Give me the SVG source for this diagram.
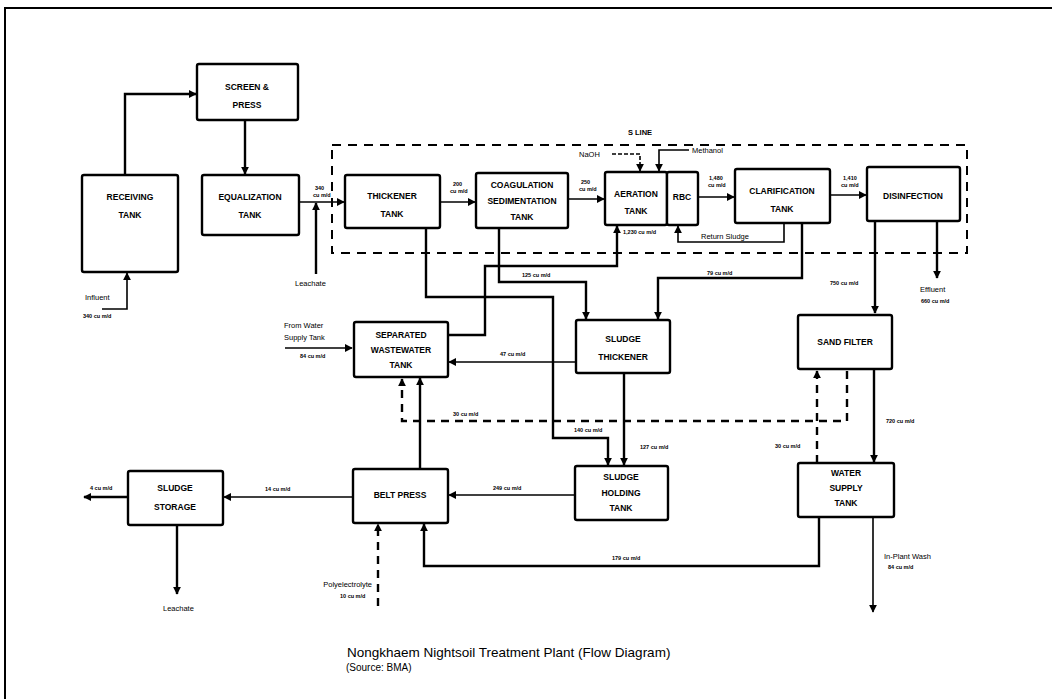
<svg xmlns="http://www.w3.org/2000/svg" width="1052" height="699" viewBox="0 0 1052 699">
<defs>
<marker id="ah" viewBox="0 0 10 10" refX="9" refY="5" markerWidth="8" markerHeight="8" markerUnits="userSpaceOnUse" orient="auto"><path d="M0,0 L10,5 L0,10 z" fill="#000"/></marker>
</defs>
<style>
.box{fill:#fff;stroke:#000;stroke-width:2.4}
.nt{font-family:"Liberation Sans",Arial,sans-serif;font-size:8.5px;font-weight:bold;text-anchor:middle;fill:#000}
.fl{font-family:"Liberation Sans",Arial,sans-serif;font-size:5.5px;font-weight:bold;fill:#000}
.lb{font-family:"Liberation Sans",Arial,sans-serif;font-size:7.5px;fill:#000}
.ln{fill:none;stroke:#000;stroke-width:1.6}
.th{fill:none;stroke:#000;stroke-width:2.4}
.ds{fill:none;stroke:#000;stroke-width:2;stroke-dasharray:9,7}
.dsb{fill:none;stroke:#000;stroke-width:2.4;stroke-dasharray:8,6}
</style>
<rect width="1052" height="699" fill="#fff"/>
<path d="M5,699 L5,8 L1052,8" fill="none" stroke="#000" stroke-width="2"/>

<g id="s-line">
<rect x="332" y="145" width="635" height="108" class="ds"/>
<text x="640" y="135" class="lb" text-anchor="middle" font-weight="bold">S LINE</text>
</g>

<g id="connectors">
<path d="M125,175 L125,94 L196,94" class="th" marker-end="url(#ah)"/>
<path d="M245,120 L245,174" class="th" marker-end="url(#ah)"/>
<path d="M102,309 L127,309 L127,273" class="ln" marker-end="url(#ah)"/>
<path d="M299,202 L344,202" class="ln" marker-end="url(#ah)"/>
<path d="M316,274 L316,203" class="th" marker-end="url(#ah)"/>
<path d="M440,202 L475,202" class="ln" marker-end="url(#ah)"/>
<path d="M568,199 L604,199" class="ln" marker-end="url(#ah)"/>
<path d="M612,154 L640,154 L640,171" class="ln" stroke-dasharray="4,2" marker-end="url(#ah)"/>
<path d="M689,150 L659,150 L659,171" class="ln" marker-end="url(#ah)"/>
<path d="M698,197 L734,197" class="ln" marker-end="url(#ah)"/>
<path d="M784,223 L784,242 L678,242 L678,226" class="ln" marker-end="url(#ah)"/>
<path d="M830,195 L866,195" class="ln" marker-end="url(#ah)"/>
<path d="M937,221 L937,278" class="th" marker-end="url(#ah)"/>
<path d="M875,221 L875,313" class="th" marker-end="url(#ah)"/>
<path d="M802,223 L802,278 L658,278 L658,319" class="th" marker-end="url(#ah)"/>
<path d="M499,228 L499,282 L586,282 L586,319" class="th" marker-end="url(#ah)"/>
<path d="M426,228 L426,297 L553,297 L553,438 L608,438 L608,465" class="th" marker-end="url(#ah)"/>
<path d="M448,335 L485,335 L485,266 L617,266 L617,226" class="th" marker-end="url(#ah)"/>
<path d="M576,362 L449,362" class="ln" marker-end="url(#ah)"/>
<path d="M285,348 L352,348" class="ln" marker-end="url(#ah)"/>
<path d="M624,373 L624,465" class="th" marker-end="url(#ah)"/>
<path d="M575,495 L449,495" class="ln" marker-end="url(#ah)"/>
<path d="M420,469 L420,378" class="th" marker-end="url(#ah)"/>
<path d="M847,371 L847,421 L402,421 L402,379" class="dsb" marker-end="url(#ah)"/>
<path d="M817,463 L817,371" class="dsb" marker-end="url(#ah)"/>
<path d="M874,369 L874,462" class="th" marker-end="url(#ah)"/>
<path d="M819,517 L819,566 L424,566 L424,524" class="th" marker-end="url(#ah)"/>
<path d="M873,517 L873,612" class="ln" marker-end="url(#ah)"/>
<path d="M353,497 L224,497" class="ln" marker-end="url(#ah)"/>
<path d="M128,497 L84,497" class="th" marker-end="url(#ah)"/>
<path d="M177,525 L177,594" class="th" marker-end="url(#ah)"/>
<path d="M378,606 L378,524" class="dsb" marker-end="url(#ah)"/>
</g>

<g id="flow-labels">
<text x="83" y="318" class="fl">340 cu m/d</text>
<text x="315" y="190" class="fl">340</text><text x="313" y="197" class="fl">cu m/d</text>
<text x="453" y="186" class="fl">200</text><text x="450" y="193" class="fl">cu m/d</text>
<text x="581" y="184" class="fl">250</text><text x="579" y="191" class="fl">cu m/d</text>
<text x="709" y="180" class="fl">1,480</text><text x="708" y="187" class="fl">cu m/d</text>
<text x="843" y="180" class="fl">1,410</text><text x="841" y="187" class="fl">cu m/d</text>
<text x="623" y="234" class="fl">1,230 cu m/d</text>
<text x="701" y="239" class="lb">Return Sludge</text>
<text x="707" y="275" class="fl">79 cu m/d</text>
<text x="830" y="285" class="fl">750 cu m/d</text>
<text x="920" y="292" class="lb">Effluent</text>
<text x="921" y="303" class="fl">660 cu m/d</text>
<text x="522" y="277" class="fl">125 cu m/d</text>
<text x="500" y="356" class="fl">47 cu m/d</text>
<text x="574" y="432" class="fl">140 cu m/d</text>
<text x="640" y="449" class="fl">127 cu m/d</text>
<text x="453" y="416" class="fl">30 cu m/d</text>
<text x="775" y="448" class="fl">30 cu m/d</text>
<text x="886" y="423" class="fl">720 cu m/d</text>
<text x="493" y="490" class="fl">249 cu m/d</text>
<text x="265" y="491" class="fl">14 cu m/d</text>
<text x="90" y="490" class="fl">4 cu m/d</text>
<text x="612" y="560" class="fl">179 cu m/d</text>
<text x="884" y="559" class="lb">In-Plant Wash</text>
<text x="888" y="569" class="fl">84 cu m/d</text>
<text x="300" y="358" class="fl">84 cu m/d</text>
<text x="284" y="328" class="lb">From Water</text>
<text x="284" y="340" class="lb">Supply Tank</text>
<text x="295" y="286" class="lb">Leachate</text>
<text x="85" y="300" class="lb">Influent</text>
<text x="579" y="157" class="lb">NaOH</text>
<text x="692" y="153" class="lb">Methanol</text>
<text x="372" y="587" class="lb" text-anchor="end">Polyelectrolyte</text>
<text x="340" y="598" class="fl">10 cu m/d</text>
<text x="163" y="611" class="lb">Leachate</text>
</g>

<g id="receiving-tank"><rect x="82" y="175" width="96" height="97" rx="2" class="box"/><text x="130" y="200" class="nt">RECEIVING</text><text x="130" y="218" class="nt">TANK</text></g>
<g id="screen-press"><rect x="197" y="64" width="101" height="56" rx="2" class="box"/><text x="247" y="90" class="nt">SCREEN &amp;</text><text x="247" y="108" class="nt">PRESS</text></g>
<g id="equalization-tank"><rect x="202" y="175" width="97" height="60" rx="2" class="box"/><text x="250" y="200" class="nt">EQUALIZATION</text><text x="250" y="218" class="nt">TANK</text></g>
<g id="thickener-tank"><rect x="345" y="175" width="95" height="53" rx="2" class="box"/><text x="392" y="199" class="nt">THICKENER</text><text x="392" y="217" class="nt">TANK</text></g>
<g id="coagulation-tank"><rect x="476" y="173" width="92" height="55" rx="2" class="box"/><text x="522" y="188" class="nt">COAGULATION</text><text x="522" y="204" class="nt">SEDIMENTATION</text><text x="522" y="220" class="nt">TANK</text></g>
<g id="aeration-tank"><rect x="605" y="172" width="62" height="53" rx="2" class="box"/><text x="636" y="197" class="nt">AERATION</text><text x="636" y="214" class="nt">TANK</text></g>
<g id="rbc"><rect x="667" y="172" width="31" height="53" rx="2" class="box"/><text x="682" y="200" class="nt">RBC</text></g>
<g id="clarification-tank"><rect x="735" y="169" width="95" height="54" rx="2" class="box"/><text x="782" y="194" class="nt">CLARIFICATION</text><text x="782" y="212" class="nt">TANK</text></g>
<g id="disinfection"><rect x="867" y="167" width="93" height="54" rx="2" class="box"/><text x="913" y="199" class="nt">DISINFECTION</text></g>
<g id="separated-wastewater-tank"><rect x="354" y="322" width="94" height="55" rx="2" class="box"/><text x="401" y="338" class="nt">SEPARATED</text><text x="401" y="353" class="nt">WASTEWATER</text><text x="401" y="368" class="nt">TANK</text></g>
<g id="sludge-thickener"><rect x="576" y="320" width="94" height="53" rx="2" class="box"/><text x="623" y="342" class="nt">SLUDGE</text><text x="623" y="360" class="nt">THICKENER</text></g>
<g id="sand-filter"><rect x="798" y="315" width="94" height="54" rx="2" class="box"/><text x="845" y="345" class="nt">SAND FILTER</text></g>
<g id="sludge-storage"><rect x="128" y="471" width="95" height="54" rx="2" class="box"/><text x="175" y="491" class="nt">SLUDGE</text><text x="175" y="510" class="nt">STORAGE</text></g>
<g id="belt-press"><rect x="353" y="469" width="95" height="54" rx="2" class="box"/><text x="400" y="498" class="nt">BELT PRESS</text></g>
<g id="sludge-holding-tank"><rect x="575" y="466" width="93" height="54" rx="2" class="box"/><text x="621" y="480" class="nt">SLUDGE</text><text x="621" y="496" class="nt">HOLDING</text><text x="621" y="511" class="nt">TANK</text></g>
<g id="water-supply-tank"><rect x="798" y="463" width="96" height="54" rx="2" class="box"/><text x="846" y="476" class="nt">WATER</text><text x="846" y="491" class="nt">SUPPLY</text><text x="846" y="506" class="nt">TANK</text></g>

<g id="caption">
<text x="347" y="657" font-family="'Liberation Sans',Arial,sans-serif" font-size="13.5" fill="#000">Nongkhaem Nightsoil Treatment Plant (Flow Diagram)</text>
<text x="346" y="671" font-family="'Liberation Sans',Arial,sans-serif" font-size="10" fill="#000">(Source: BMA)</text>
</g>
</svg>
